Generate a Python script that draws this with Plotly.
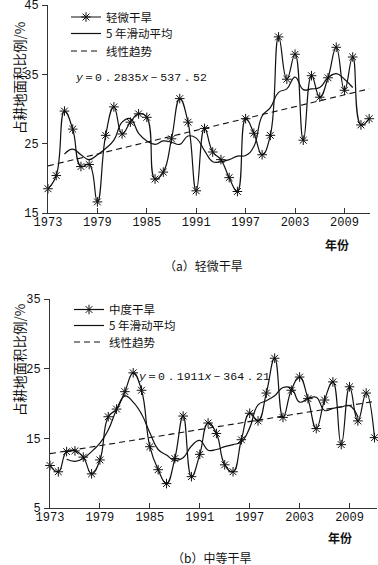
import plotly.graph_objects as go

years = list(range(1973, 2013))
ma_years = list(range(1975, 2011))

# (a) 轻微干旱
mild = [18.5, 20.4, 29.7, 27.1, 21.7, 22.0, 16.6, 26.2, 30.3, 26.4,
        28.1, 29.3, 28.8, 19.9, 20.9, 25.7, 31.5, 28.1, 18.2, 27.2,
        23.8, 22.7, 20.1, 18.1, 28.6, 26.5, 23.4, 26.2, 40.4, 34.3,
        37.9, 25.5, 34.8, 31.7, 34.5, 38.9, 32.7, 37.5, 27.7, 28.6]
mild_ma = [23.5, 24.2, 23.4, 22.7, 23.4, 24.3, 25.5, 28.1, 28.6, 26.5,
           25.4, 24.9, 25.4, 25.2, 24.9, 26.1, 25.8, 24.0, 22.4, 22.4,
           22.7, 23.2, 23.3, 24.6, 29.0, 30.2, 32.4, 32.9, 34.6, 32.8,
           32.9, 33.1, 34.5, 35.1, 34.3, 33.1]
mild_trend_x = [1973, 2012]
mild_trend = [21.8, 32.9]

# (b) 中等干旱
moderate = [11.1, 10.2, 13.1, 13.2, 12.3, 9.9, 11.9, 18.1, 19.2, 21.7,
            24.4, 21.9, 13.8, 10.5, 8.5, 12.1, 18.2, 9.5, 12.7, 17.2,
            15.7, 11.2, 10.2, 14.8, 18.6, 17.5, 21.5, 26.5, 18.0, 21.9,
            23.8, 20.7, 16.4, 20.5, 23.1, 14.1, 22.4, 17.5, 21.5, 15.1]
moderate_ma = [12.0, 11.7, 12.1, 13.1, 14.3, 16.2, 19.1, 21.1, 20.2, 18.5,
               15.8, 13.4, 12.6, 11.8, 12.2, 13.9, 14.7, 13.3, 13.4, 13.8,
               14.1, 14.5, 16.5, 19.8, 20.4, 21.1, 22.3, 22.2, 20.2, 20.7,
               20.9, 19.0, 19.3, 19.5, 19.7, 18.1]
moderate_trend_x = [1973, 2012]
moderate_trend = [12.8, 20.3]

W, H = 378, 565
NUM_FONT = "Liberation Mono, DejaVu Sans Mono, monospace"
CJK_FONT = "Noto Sans CJK SC, Noto Sans, sans-serif"
INK = "#111111"

def px(x):
    return x / W

def py(y):
    return 1 - y / H

fig = go.Figure()

line_style = dict(color=INK, width=1.2, shape="spline", smoothing=1.3)
marker_style = dict(symbol="asterisk-open", size=8, color=INK,
                    line=dict(width=1, color=INK))
dash_style = dict(color=INK, width=1.1, dash="6px,4px")

fig.add_trace(go.Scatter(x=years, y=mild, mode="lines+markers", name="轻微干旱",
                         line=line_style, marker=marker_style, cliponaxis=False,
                         xaxis="x", yaxis="y", legend="legend"))
fig.add_trace(go.Scatter(x=ma_years, y=mild_ma, mode="lines", name="5 年滑动平均",
                         line=line_style, xaxis="x", yaxis="y", legend="legend2"))
fig.add_trace(go.Scatter(x=mild_trend_x, y=mild_trend, mode="lines", name="线性趋势",
                         line=dash_style, xaxis="x", yaxis="y", legend="legend3"))

fig.add_trace(go.Scatter(x=years, y=moderate, mode="lines+markers", name="中度干旱",
                         line=line_style, marker=marker_style, cliponaxis=False,
                         xaxis="x2", yaxis="y2", legend="legend4"))
fig.add_trace(go.Scatter(x=ma_years, y=moderate_ma, mode="lines", name="5 年滑动平均",
                         line=line_style, xaxis="x2", yaxis="y2", legend="legend5"))
fig.add_trace(go.Scatter(x=moderate_trend_x, y=moderate_trend, mode="lines", name="线性趋势",
                         line=dash_style, xaxis="x2", yaxis="y2", legend="legend6"))

xticks = [1973, 1979, 1985, 1991, 1997, 2003, 2009]

def xaxis(domain, rng, anchor):
    return dict(domain=domain, range=rng, anchor=anchor, showgrid=False,
                zeroline=False, showline=True, linecolor="#333", linewidth=1,
                ticks="inside", ticklen=5, tickcolor="#333", tickvals=xticks,
                ticklabelstandoff=-2, automargin=False, ticklabeloverflow="allow",
                tickfont=dict(family=NUM_FONT, size=12, color=INK))

def yaxis(domain, rng, anchor, tv):
    return dict(domain=domain, range=rng, anchor=anchor, showgrid=False,
                zeroline=False, showline=True, linecolor="#333", linewidth=1,
                ticks="outside", ticklen=5, tickcolor="#333", tickvals=tv,
                ticklabelstandoff=1, automargin=False, ticklabeloverflow="allow",
                tickfont=dict(family=NUM_FONT, size=12, color=INK))

def leg(xpix, ypix):
    return dict(x=px(xpix), y=py(ypix), xanchor="left", yanchor="middle",
                bgcolor="rgba(0,0,0,0)", font=dict(family=CJK_FONT, size=11.5, color=INK),
                itemwidth=30)

fig.update_layout(
    width=W, height=H,
    margin=dict(l=0, r=0, t=0, b=0, pad=0, autoexpand=False),
    paper_bgcolor="white", plot_bgcolor="white",
    xaxis=xaxis([px(48), px(370)], [1973, 2012.1], "y"),
    yaxis=yaxis([py(213), py(5)], [15, 45], "x", [15, 25, 35, 45]),
    xaxis2=xaxis([px(50), px(377)], [1973, 2012.3], "y2"),
    yaxis2=yaxis([py(508), py(299)], [5, 35], "x2", [5, 15, 25, 35]),
    legend=leg(66, 17),
    legend2=leg(66, 33.5),
    legend3=leg(66, 51),
    legend4=leg(69, 309.5),
    legend5=leg(69, 325.5),
    legend6=leg(69, 342),
    showlegend=True,
)

cap_font = dict(family=CJK_FONT, size=12, color=INK)
title_font = dict(family=CJK_FONT, size=13.5, color=INK)
eq_font = dict(family=NUM_FONT, size=11.5, color=INK)
annotations = [
    dict(x=px(140.5), y=py(78), text="<i>y</i>＝0．2835<i>x</i>－537．52", font=eq_font,
         xanchor="center", yanchor="middle"),
    dict(x=px(203.5), y=py(377), text="<i>y</i>＝0．1911<i>x</i>－364．21", font=eq_font,
         xanchor="center", yanchor="middle"),
    dict(x=px(337), y=py(244), text="<b>年份</b>", font=cap_font, xanchor="center", yanchor="middle"),
    dict(x=px(340), y=py(537), text="<b>年份</b>", font=cap_font, xanchor="center", yanchor="middle"),
    dict(x=px(203), y=py(265), text="（a）轻微干旱", font=cap_font, xanchor="center", yanchor="middle"),
    dict(x=px(211), y=py(557), text="（b）中等干旱", font=cap_font, xanchor="center", yanchor="middle"),
    dict(x=px(19), y=py(78), text="占耕地面积比例/%", font=title_font, textangle=-90,
         xanchor="center", yanchor="middle"),
    dict(x=px(19), y=py(360), text="占耕地面积比例/%", font=title_font, textangle=-90,
         xanchor="center", yanchor="middle"),
]
for a in annotations:
    a.update(xref="paper", yref="paper", showarrow=False)
fig.update_layout(annotations=annotations)

fig.write_html("out.html",
               config={"displayModeBar": False},
               post_script="document.body.style.margin='0px';document.body.style.overflow='hidden';")
